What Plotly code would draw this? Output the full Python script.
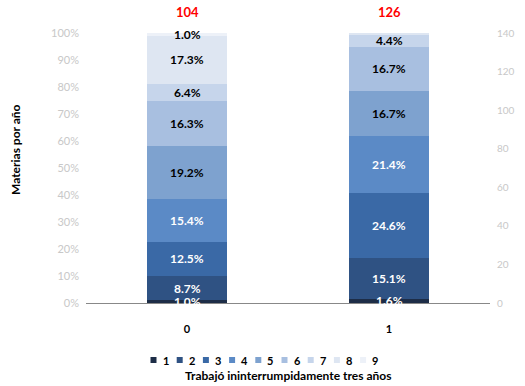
import plotly.graph_objects as go

categories = ["0", "1"]
segments = ["1", "2", "3", "4", "5", "6", "7", "8", "9"]
values_bar0 = [1.0, 8.7, 12.5, 15.4, 19.2, 16.3, 6.4, 17.3, 1.0]
values_bar1 = [1.6, 15.1, 24.6, 21.4, 16.7, 16.7, 4.4, 0.7, 0.0]
labels_bar0 = ["1.0%", "8.7%", "12.5%", "15.4%", "19.2%", "16.3%", "6.4%", "17.3%", "1.0%"]
labels_bar1 = ["1.6%", "15.1%", "24.6%", "21.4%", "16.7%", "16.7%", "4.4%", "", ""]
totals = [104, 126]

colors = ["#1d2d47", "#2f5283", "#3a69a6", "#5b8ac6", "#7ea2cf",
          "#a8bfe0", "#c6d5eb", "#dee6f2", "#edf1f8"]
label_colors = ["white", "white", "white", "white", "black",
                "black", "black", "black", "black"]

FONT = "Lato"

# plot area in pixels (for legend / title placement)
L, R, T, B = 86, 490, 33, 303
PW, PH = R - L, B - T

def px_x(px):
    return (px - L) / PW

def px_y(py):
    return (B - py) / PH

def normalize(vals):
    s = sum(vals)
    return [v / s * 100 for v in vals]

norm = [normalize(values_bar0), normalize(values_bar1)]
labels = [labels_bar0, labels_bar1]

fig = go.Figure()
for i, seg in enumerate(segments):
    fig.add_trace(go.Bar(
        x=categories,
        y=[norm[0][i], norm[1][i]],
        name=seg,
        marker=dict(color=colors[i], line=dict(width=0)),
        hoverinfo="skip",
        showlegend=False,
    ))

# invisible trace so the secondary axis is drawn
fig.add_trace(go.Scatter(x=categories, y=[0, 0], yaxis="y2", mode="markers",
                         marker=dict(opacity=0), showlegend=False, hoverinfo="skip"))

annotations = []
shapes = []
for b in range(2):
    cum = 0
    for i in range(len(segments)):
        v = norm[b][i]
        mid = cum + v / 2
        cum += v
        if labels[b][i]:
            annotations.append(dict(
                x=categories[b], y=mid, xref="x", yref="y",
                text=labels[b][i], showarrow=False,
                font=dict(family=FONT, size=12, color=label_colors[i], weight="bold"),
            ))
    annotations.append(dict(
        x=categories[b], y=px_y(12), xref="x", yref="paper", yanchor="middle",
        text=str(totals[b]), showarrow=False,
        font=dict(family=FONT, size=13, color="#ff0000", weight="bold"),
    ))

# compact legend (squares + labels)
leg_x0, leg_step, leg_y = 150.5, 26.2, 360
for i, seg in enumerate(segments):
    sx = leg_x0 + i * leg_step
    shapes.append(dict(type="rect", xref="paper", yref="paper",
                       x0=px_x(sx), x1=px_x(sx + 6), y0=px_y(leg_y + 3), y1=px_y(leg_y - 3),
                       fillcolor=colors[i], line=dict(width=0)))
    annotations.append(dict(
        x=px_x(sx + 10), y=px_y(leg_y), xref="paper", yref="paper",
        xanchor="left", yanchor="middle", text=seg, showarrow=False,
        font=dict(family=FONT, size=11, color="black", weight="bold"),
    ))

annotations.append(dict(
    x=px_x((L + R) / 2), y=px_y(375), xref="paper", yref="paper",
    xanchor="center", yanchor="middle",
    text="Trabajó ininterrumpidamente tres años", showarrow=False,
    font=dict(family=FONT, size=12, color="black", weight="bold"),
))
annotations.append(dict(
    x=px_x(15), y=px_y(150), xref="paper", yref="paper",
    xanchor="center", yanchor="middle", textangle=-90,
    text="Materias por año", showarrow=False,
    font=dict(family=FONT, size=12, color="black", weight="bold"),
))

fig.update_layout(
    width=525, height=386,
    margin=dict(l=L, r=525 - R, t=T, b=386 - B, autoexpand=False),
    barmode="stack",
    bargap=0.6,
    plot_bgcolor="white", paper_bgcolor="white",
    font=dict(family=FONT, size=11, color="black"),
    annotations=annotations,
    shapes=shapes,
    showlegend=False,
    hovermode=False,
    xaxis=dict(
        showline=True, linecolor="#888888", linewidth=1,
        showgrid=False, ticks="", automargin=False,
        ticklabelstandoff=16,
        tickfont=dict(family=FONT, size=11, color="black", weight="bold"),
    ),
    yaxis=dict(
        range=[0, 100], dtick=10, ticksuffix="%", automargin=False,
        showgrid=False, zeroline=False, showline=False,
        ticklabelstandoff=6,
        tickfont=dict(family=FONT, size=11, color="#c8c8c8"),
    ),
    yaxis2=dict(
        overlaying="y", side="right", range=[0, 140], dtick=20, automargin=False,
        showgrid=False, zeroline=False, showline=False,
        ticklabelstandoff=6,
        tickfont=dict(family=FONT, size=10, color="#c8c8c8"),
    ),
)

fig.write_html("out.html", config={"displayModeBar": False, "staticPlot": True},
               post_script="document.body.style.margin='0';document.body.style.overflow='hidden';")
